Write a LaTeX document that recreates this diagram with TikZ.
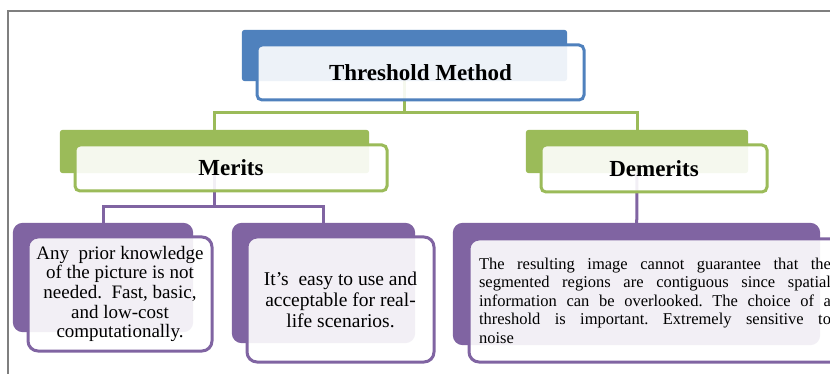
\documentclass[tikz,border=0pt]{standalone}
\usepackage{fontspec}
\setmainfont{Liberation Serif}
\definecolor{oblue}{HTML}{4F81BD}
\definecolor{ogreen}{HTML}{9BBB59}
\definecolor{opurple}{HTML}{8064A2}
\definecolor{framegray}{HTML}{7F7F7F}
\begin{document}
\frenchspacing
\begin{tikzpicture}[x=1pt,y=-1pt,
  backrect/.style={rectangle, draw=none, inner sep=0pt},
  frontbox/.style={rectangle, line width=3pt, fill=white, fill opacity=0.9, text opacity=1, inner sep=0pt, rounded corners=5pt},
  bigfront/.style={frontbox, draw=opurple, rounded corners=10pt},
  gline/.style={draw=ogreen, line width=3pt},
  pline/.style={draw=opurple, line width=3pt},
  headfont/.style={font=\fontsize{23}{26}\selectfont\bfseries}
]
\useasboundingbox (0,0) rectangle (830,374);
\fill[white] (0,0) rectangle (830,374);
% frame
\draw[framegray, line width=1.5pt] (8,374) -- (8,11) -- (830,11);

% back rectangles (positions)
\node[backrect, minimum width=325pt, minimum height=51pt] (tmb) at (404.5,55.5) {};
\node[backrect, minimum width=309pt, minimum height=43pt] (mb) at (214.5,151.5) {};
\node[backrect, minimum width=222pt, minimum height=43pt] (db) at (637,151.5) {};
\node[backrect, minimum width=180pt, minimum height=109pt] (b1b) at (103,277.5) {};
\node[backrect, minimum width=183pt, minimum height=120pt] (b2b) at (323.5,283) {};
\node[backrect, minimum width=367pt, minimum height=122pt] (b3b) at (636.5,284) {};

% junction coordinates
\coordinate (j1) at (404.5,113);
\coordinate (j2) at (214.5,207);

% connectors (behind the boxes)
\draw[gline] (tmb.center) -- (j1);
\draw[gline] (j1) -| (mb.center);
\draw[gline] (j1) -| (db.center);
\draw[pline] (mb.center) -- (j2);
\draw[pline] (j2) -| (b1b.center);
\draw[pline] (j2) -| (b2b.center);
\draw[pline] (db.center) -- (b3b.center);

% back rectangles
\fill[oblue, rounded corners=3pt] (tmb.north west) rectangle (tmb.south east);
\fill[ogreen, rounded corners=3pt] (mb.north west) rectangle (mb.south east);
\fill[ogreen, rounded corners=3pt] (db.north west) rectangle (db.south east);
\fill[opurple, rounded corners=10pt] (b1b.north west) rectangle (b1b.south east);
\fill[opurple, rounded corners=10pt] (b2b.north west) rectangle (b2b.south east);
\fill[opurple, rounded corners=10pt] (b3b.north west) rectangle (b3b.south east);

% front boxes
\node[frontbox, draw=oblue, minimum width=327pt, minimum height=55pt, headfont] (tm) at (420.5,72.5) {Threshold Method};
\node[frontbox, draw=ogreen, minimum width=312pt, minimum height=46pt, headfont] (m) at (231,168) {Merits};
\node[frontbox, draw=ogreen, minimum width=226pt, minimum height=47pt, headfont] (d) at (654,168.5) {Demerits};

\node[bigfront, minimum width=184pt, minimum height=114pt, align=center,
  font=\fontsize{19}{19.7}\selectfont] (b1) at (120,294)
  {Any\ \ prior knowledge\\of the picture is not\\needed.\ \ Fast, basic,\\and low-cost\\computationally.};
\node[bigfront, minimum width=187pt, minimum height=125pt, align=center,
  font=\fontsize{19.5}{21}\selectfont] (b2) at (340.5,299.5)
  {It’s\ \ easy to use and\\acceptable for real-\\life scenarios.};
\node[bigfront, minimum width=372pt, minimum height=123pt, align=left,
  font=\fontsize{16.5}{18.5}\selectfont] (b3) at (655,300.5)
  {\makebox[352pt][s]{The resulting image cannot guarantee that the}\\
   \makebox[352pt][s]{segmented regions are contiguous since spatial}\\
   \makebox[352pt][s]{information can be overlooked. The choice of a}\\
   \makebox[352pt][s]{threshold is important. Extremely sensitive to}\\
   \makebox[352pt][l]{noise}};
\end{tikzpicture}
\end{document}
